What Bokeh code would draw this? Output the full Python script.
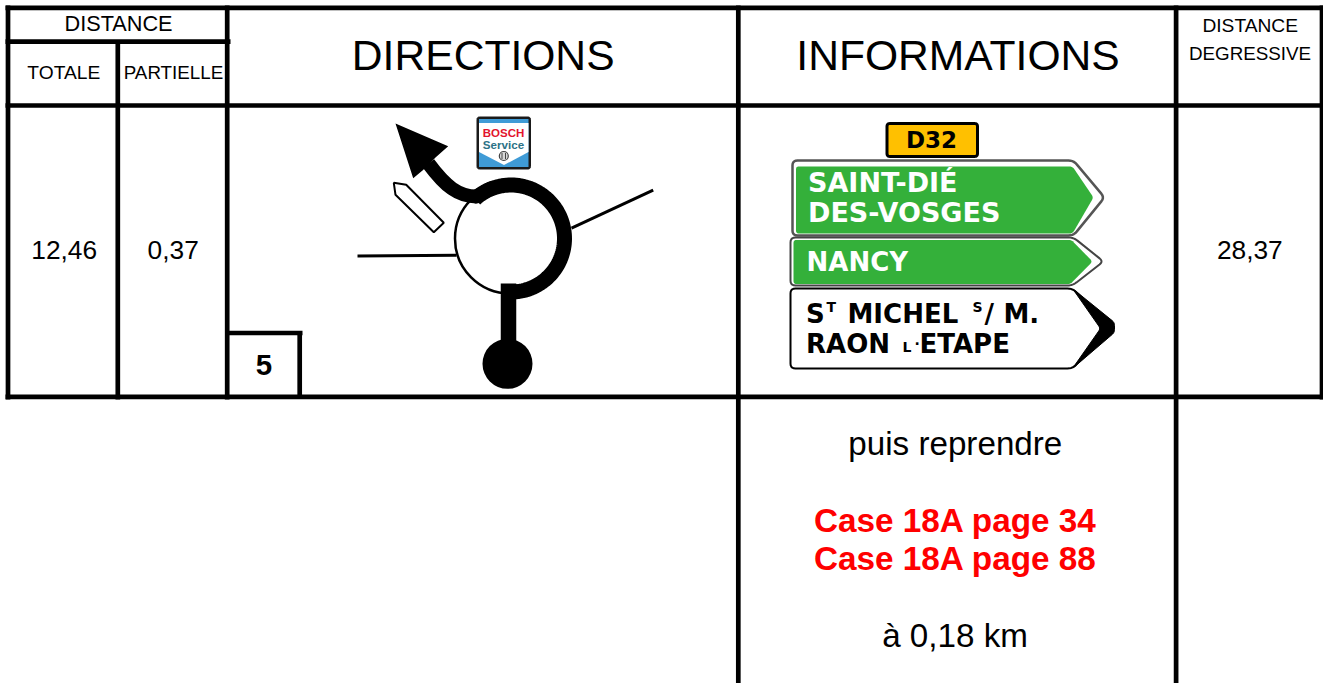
import numpy as np
from bokeh.plotting import figure
from bokeh.models import Range1d
from bokeh.core.properties import value
from bokeh.embed import file_html
from bokeh.resources import INLINE

SANS = "Liberation Sans"
SIGN = "DejaVu Sans"

# frame rules
rule_x0 = [5, 5, 5, 5, 7.5, 117.3, 226.7, 737.8, 1175.6, 1321.5, 225, 299.2]
rule_x1 = [1323, 230, 1323, 1323, 7.5, 117.3, 226.7, 737.8, 1175.6, 1321.5, 302, 299.2]
rule_y0 = [7.4, 41.2, 105, 396.4, 5, 41, 5, 5, 5, 5, 332.5, 332.5]
rule_y1 = [7.4, 41.2, 105, 396.4, 399, 399, 399, 683, 683, 399, 332.5, 396]

# header and table cells: text, x, y, px size
cell_text = ["DISTANCE", "TOTALE", "PARTIELLE", "DIRECTIONS", "INFORMATIONS", "DISTANCE", "DEGRESSIVE",
             "12,46", "0,37", "28,37", "puis reprendre", "à 0,18 km"]
cell_x = [118, 63.3, 173, 482.7, 957.5, 1249.7, 1249.5, 63.7, 172.7, 1249.3, 954.8, 954.5]
cell_y = [23, 72, 72, 54, 54, 25, 53, 249, 249, 249, 443, 635]
cell_size = [21.7, 19.2, 18.8, 42.6, 42.6, 19.2, 18.8, 26.3, 26.3, 26.3, 33.2, 33.2]

# emphasised text
red_text = ["Case 18A page 34", "Case 18A page 88"]
red_y = [520, 558]

# road geometry
ring_x, ring_y, ring_r = 510.5, 238, 53.5
stem_x, stem_y0, stem_y1 = 508, 283, 362
dot_x, dot_y, dot_size = 507, 363.3, 50
road_a_x, road_a_y = [357, 456], [255.5, 254.7]
road_b_x, road_b_y = [571, 652.7], [227.7, 189.7]
pointer_x = [393.3, 405.7, 443.3, 433.3, 395]
pointer_y = [182.3, 184.3, 222.3, 231.7, 194.3]
head_x = [395, 447.7, 435, 422, 412.7]
head_y = [123, 145.7, 157, 170, 177.7]
turn_x = [428, 445, 458, 476, 490]
turn_y = [163, 186, 196, 196, 188]

# sign panels
outer1_x, outer1_y = [792, 1073, 1104, 1073, 792], [160, 160, 197, 235, 235]
green1_x, green1_y = [795.5, 1072, 1093, 1072, 795.5], [166, 166, 197, 233, 233]
outer2_x, outer2_y = [790, 1073, 1103, 1072, 790], [237, 237, 261, 285, 285]
green2_x, green2_y = [793, 1071, 1092, 1070, 793], [239.5, 239.5, 261, 283.5, 283.5]
white_x, white_y = [790, 1072, 1112, 1072, 790], [288, 288, 327, 368, 368]
wedge_x = [1072, 1114, 1114, 1072, 1100]
wedge_y = [288, 322, 332, 368, 328]

sign_text = ["SAINT-DIÉ", "DES-VOSGES", "NANCY"]
sign_y = [182, 211.5, 261]
sign_x = [807.5, 807.5, 806]
sign_size = [27, 27, 26]
black_text = ["S", "MICHEL", "/", "M.", "RAON", "ETAPE"]
black_x = [805.5, 847, 984, 1003, 805.5, 919]
black_y = [313, 313, 313, 313, 343.5, 343.5]
small_text = ["T", "S", "L", "·"]
small_x = [826, 972, 902, 914]
small_y = [306, 306, 346.5, 343]

p = figure(width=1323, height=683, output_backend="svg", toolbar_location=None,
           x_range=Range1d(0, 1323), y_range=Range1d(683, 0), min_border=0,
           outline_line_color=None, background_fill_color="white")
p.xaxis.visible = False
p.yaxis.visible = False
p.grid.visible = False


def label(txt, x, y, size, color="black", bold=False, align="center", font=SANS):
    p.text([x], [y], text=[txt], text_font=value(font), text_font_size=f"{size}px",
           text_color=color, text_font_style="bold" if bold else "normal",
           text_align=align, text_baseline="middle")


def rounded(xs, ys, r, steps=6):
    """Polygon outline with its corners rounded off by radius r."""
    pts = np.column_stack([xs, ys]).astype(float)
    n = len(pts)
    out = []
    for i in range(n):
        a, b, c = pts[i - 1], pts[i], pts[(i + 1) % n]
        u = (a - b) / np.linalg.norm(a - b)
        v = (c - b) / np.linalg.norm(c - b)
        for t in np.linspace(0, 1, steps):
            out.append((1 - t) ** 2 * (b + u * r) + 2 * t * (1 - t) * b + t ** 2 * (b + v * r))
    out = np.array(out)
    return out[:, 0], out[:, 1]


p.segment(rule_x0, rule_y0, rule_x1, rule_y1, line_color="black", line_width=4.7, line_cap="butt")

for t, x, y, s in zip(cell_text, cell_x, cell_y, cell_size):
    label(t, x, y, s)
label("5", 263.5, 364, 29.5, bold=True)
for t, y in zip(red_text, red_y):
    label(t, 955, y, 33.3, color="#ff0000", bold=True)

# roundabout
p.circle([ring_x - 1], [ring_y], radius=55, fill_color="white", line_color="black", line_width=2.5)
ang = np.radians(np.linspace(-90, 132, 90))
p.line(ring_x + ring_r * np.cos(ang), ring_y - ring_r * np.sin(ang), line_color="black", line_width=15, line_cap="butt")
p.line(road_a_x, road_a_y, line_color="black", line_width=3)
p.line(road_b_x, road_b_y, line_color="black", line_width=3)
p.segment([stem_x], [stem_y0], [stem_x], [stem_y1], line_color="black", line_width=15.5, line_cap="butt")
p.scatter([dot_x], [dot_y], size=dot_size, marker="circle", fill_color="black", line_color=None)
p.patch(pointer_x, pointer_y, fill_color="white", line_color="black", line_width=2)
p.bezier(x0=[turn_x[0]], y0=[turn_y[0]], x1=[turn_x[3]], y1=[turn_y[3]],
         cx0=[turn_x[1]], cy0=[turn_y[1]], cx1=[turn_x[2]], cy1=[turn_y[2]],
         line_color="black", line_width=14)
p.line(turn_x[3:], turn_y[3:], line_color="black", line_width=14, line_cap="round")
p.patch(head_x, head_y, fill_color="black", line_color=None)

# Bosch badge
bx, by = rounded([476.5, 530, 530, 476.5], [116.5, 116.5, 168.5, 168.5], 2.5)
p.patch(bx, by, fill_color="#1a1a1a", line_color="#1a1a1a", line_width=1)
p.patch([478.5, 528, 528, 478.5], [118.5, 118.5, 166.5, 166.5], fill_color="#3f9bd6", line_color=None)
p.patch([478.5, 528, 528, 503.5, 478.5], [122.5, 122.5, 151.5, 164.5, 151.5], fill_color="white", line_color=None)
label("BOSCH", 503, 132, 11.5, color="#e2142d", bold=True)
label("Service", 503, 143.5, 11.6, color="#2c7286", bold=True)
p.circle([503.3], [155.5], radius=4.5, fill_color="#d8d8d8", line_color="#444444", line_width=1.2)
p.segment([501.5, 505], [152.5, 152.5], [501.5, 505], [158.5, 158.5], line_color="#444444", line_width=1)

# D32 plate
dx, dy = rounded([886.5, 977, 977, 886.5], [123, 123, 156, 156], 3)
p.patch(dx, dy, fill_color="#ffc000", line_color="black", line_width=3)
label("D32", 931, 139, 23, bold=True, font=SIGN)

# direction panels
for xs, ys, col, lw in [(outer1_x, outer1_y, "#555555", 2.5), (outer2_x, outer2_y, "#444444", 2)]:
    rx, ry = rounded(xs, ys, 5)
    p.patch(rx, ry, fill_color="white", line_color=col, line_width=lw)
for xs, ys in [(green1_x, green1_y), (green2_x, green2_y)]:
    rx, ry = rounded(xs, ys, 3)
    p.patch(rx, ry, fill_color="#34b03a", line_color=None)
rx, ry = rounded(white_x, white_y, 5)
p.patch(rx, ry, fill_color="white", line_color="black", line_width=2)
rx, ry = rounded(wedge_x, wedge_y, 3)
p.patch(rx, ry, fill_color="black", line_color="black", line_width=1)

for t, x, y, s in zip(sign_text, sign_x, sign_y, sign_size):
    label(t, x, y, s, color="white", bold=True, align="left", font=SIGN)
for t, x, y in zip(black_text, black_x, black_y):
    label(t, x, y, 26, bold=True, align="left", font=SIGN)
for t, x, y in zip(small_text, small_x, small_y):
    label(t, x, y, 14, bold=True, align="left", font=SIGN)

open("out.html", "w").write(file_html(p, INLINE))
